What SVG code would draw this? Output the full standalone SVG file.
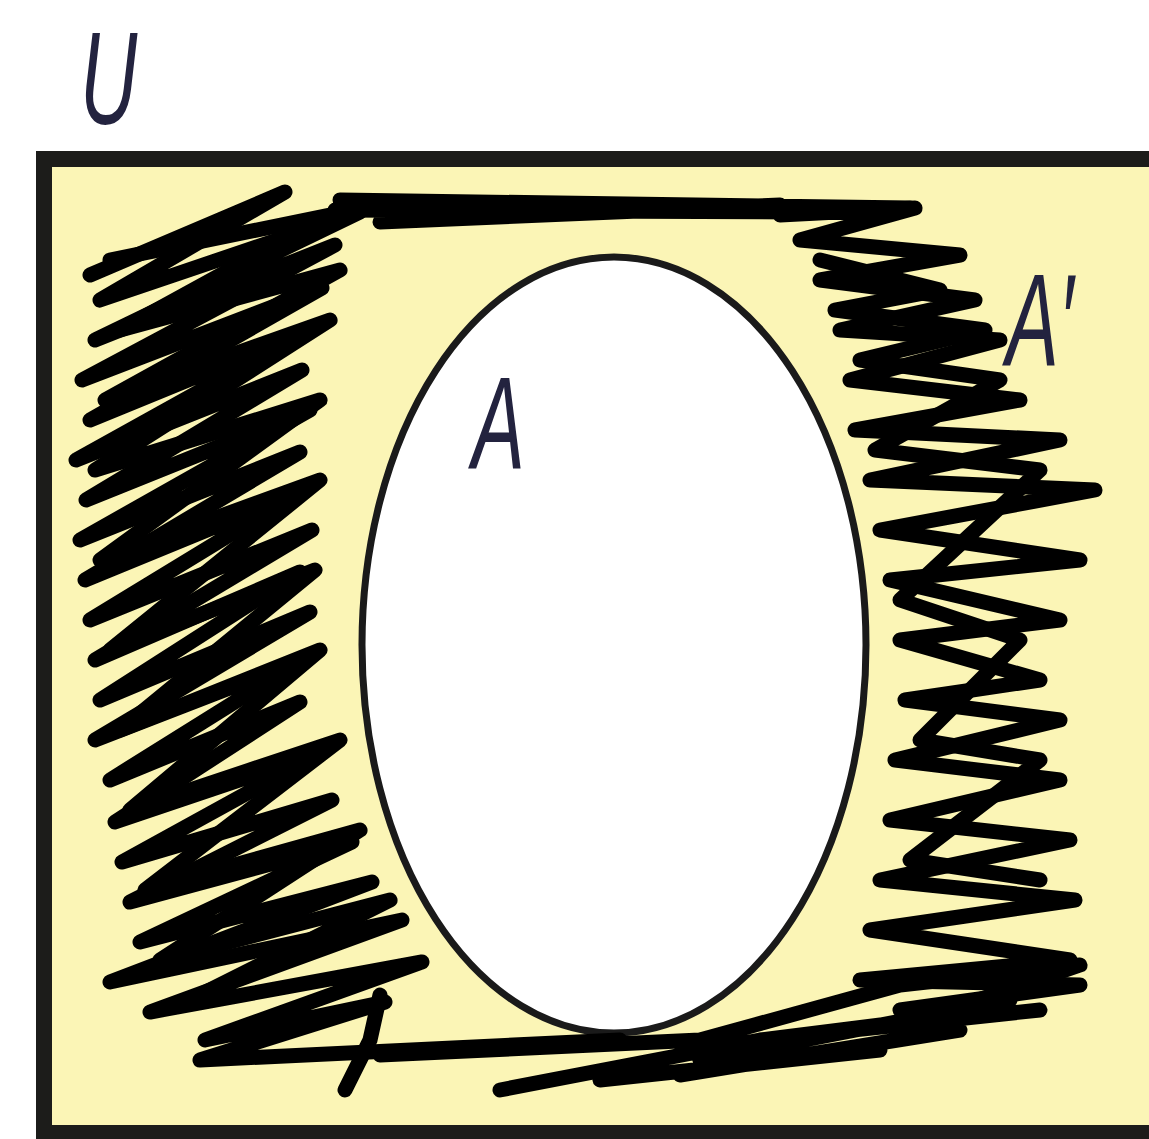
<svg xmlns="http://www.w3.org/2000/svg" width="1149" height="1139" viewBox="0 0 1149 1139">
<style>
.lbl{font-family:"Liberation Sans",Arial,sans-serif;fill:#23233f;}
.scr{fill:none;stroke:#000;stroke-width:15;stroke-linecap:round;stroke-linejoin:round;}
</style>
<rect width="1149" height="1139" fill="#fff"/>
<g id="universe">
<rect x="44" y="159" width="1130" height="974" fill="#fbf5b6" stroke="#1c1c1a" stroke-width="16"/>
</g>
<g id="setA">
<ellipse cx="614" cy="645" rx="252" ry="388" fill="#fff" stroke="#1a1a1a" stroke-width="7"/>
</g>
<g id="scribbles">
<path class="scr" d="M 90 275 L 285 192 L 100 300 L 360 212 L 95 340 L 335 245 L 82 380 L 322 288 L 90 420 L 310 330 L 76 460 L 302 370 L 86 500 L 310 410 L 80 540 L 300 452 L 85 580 L 300 492 L 90 620 L 312 530 L 95 660 L 300 572 L 100 700 L 310 612 L 95 740 L 302 660 L 110 780 L 300 702 L 115 822 L 322 752 L 122 862 L 332 800 L 130 902 L 352 842 L 140 942 L 372 882 L 110 982 L 402 920 L 150 1012 L 422 962 L 205 1040 L 385 1002 L 200 1060 L 620 1040"/>
<path class="scr" d="M 110 260 L 330 215 L 120 330 L 340 270 L 105 400 L 330 320 L 95 470 L 320 400 L 100 560 L 320 480 L 110 650 L 315 570 L 120 730 L 320 650 L 130 810 L 340 740 L 145 890 L 360 830 L 160 960 L 390 900 L 190 1000"/>
<path class="scr" d="M 340 200 L 910 208 M 335 210 L 800 212 M 380 222 L 780 205"/>
<path class="scr" d="M 780 215 L 915 208 L 800 240 L 960 255 L 820 280 L 975 300 L 840 330 L 1000 340 L 850 380 L 1020 400 L 855 430 L 1060 440 L 870 480 L 1095 490 L 880 530 L 1080 560 L 890 580 L 1060 620 L 900 640 L 1040 680 L 905 700 L 1060 720 L 895 760 L 1060 780 L 890 820 L 1070 840 L 880 880 L 1075 900 L 870 930 L 1070 960 L 860 980 L 1080 985 L 900 1010"/>
<path class="scr" d="M 820 260 L 940 290 L 835 310 L 985 330 L 860 360 L 1000 380 L 875 450 L 1040 470 L 900 600 L 1020 640 L 920 740 L 1040 760 L 910 860 L 1040 880"/>
<path class="scr" d="M 380 1055 L 700 1040 L 900 985 L 1080 965 L 920 1020 L 760 1040 L 1040 1010 M 500 1090 L 760 1040 L 700 1060 L 1010 1000 M 600 1080 L 880 1050 M 345 1090 L 370 1040 L 380 995 M 680 1075 L 960 1030"/>
</g>
<g id="labels">
<text class="lbl" x="0" y="0" font-size="132" transform="translate(80,124) scale(0.6,1)" font-style="italic">U</text>
<text class="lbl" x="0" y="0" font-size="132" transform="translate(472,469) scale(0.6,1)" font-style="italic">A</text>
<text class="lbl" x="0" y="0" font-size="132" transform="translate(1006,366) scale(0.6,1)" font-style="italic">A′</text>
</g>
</svg>
